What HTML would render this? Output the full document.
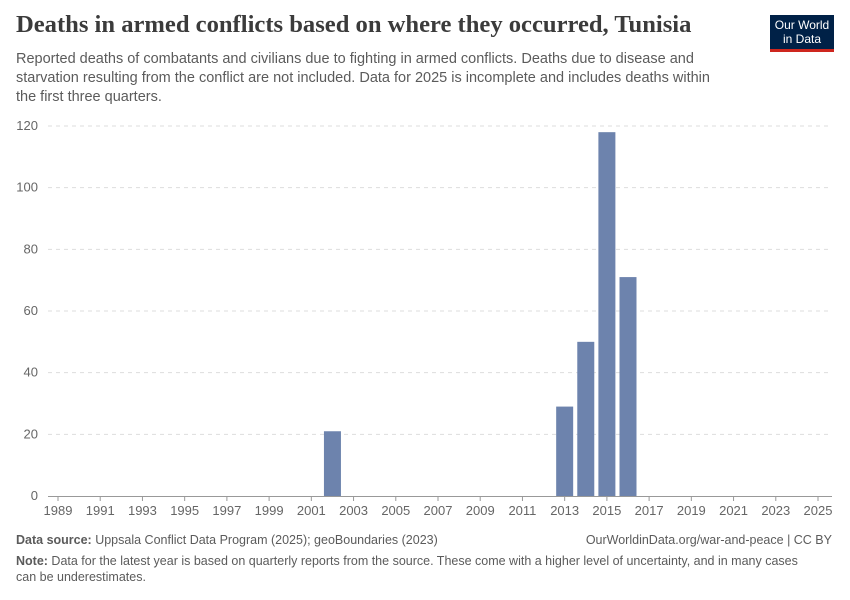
<!DOCTYPE html>
<html><head><meta charset="utf-8"><style>
body{margin:0;background:#fff;font-family:"Liberation Sans",sans-serif;}
#wrap{position:relative;width:850px;height:600px;overflow:hidden;}
.t{position:absolute;margin:0;}
</style></head><body>
<div id="wrap">
<h1 class="t" style="left:16px;top:11px;font-family:'Liberation Serif',serif;font-size:24.6px;font-weight:bold;color:#3b3b3b;">Deaths in armed conflicts based on where they occurred, Tunisia</h1>
<div class="t" style="left:16px;top:50px;width:705px;font-size:14.5px;line-height:19px;color:#5b5b5b;">Reported deaths of combatants and civilians due to fighting in armed conflicts. Deaths due to disease and starvation resulting from the conflict are not included. Data for 2025 is incomplete and includes deaths within the first three quarters.</div>
<div class="t" style="left:770px;top:15px;width:64px;height:37px;background:#002147;border-bottom:3px solid #ce261e;color:#fff;font-size:12px;line-height:14px;text-align:center;padding-top:3px;box-sizing:border-box;">Our World<br>in Data</div>
<svg id="chart" class="t" style="left:0;top:0" width="850" height="600"></svg>
<div class="t" style="left:16px;top:533px;font-size:12.5px;color:#5b5b5b;"><b>Data source:</b> Uppsala Conflict Data Program (2025); geoBoundaries (2023)</div>
<div class="t" style="right:18px;top:533px;font-size:12.5px;color:#5b5b5b;">OurWorldinData.org/war-and-peace | CC BY</div>
<div class="t" style="left:16px;top:553px;width:790px;font-size:12.5px;line-height:16px;color:#5b5b5b;"><b>Note:</b> Data for the latest year is based on quarterly reports from the source. These come with a higher level of uncertainty, and in many cases can be underestimates.</div>
</div>
<script>
const years=[2002,2013,2014,2015,2016];
const deaths=[21,29,50,118,71];
const yTicks=[0,20,40,60,80,100,120];
const xTicks=[1989,1991,1993,1995,1997,1999,2001,2003,2005,2007,2009,2011,2013,2015,2017,2019,2021,2023,2025];
const NS="http://www.w3.org/2000/svg",svg=document.getElementById('chart');
const x=y=>58+(y-1989)*(760/36), yv=v=>496-v*(370/120);
function mk(t,a){const e=document.createElementNS(NS,t);for(const k in a)e.setAttribute(k,a[k]);svg.appendChild(e);return e;}
yTicks.forEach(v=>{
 if(v>0){const g=mk('line',{x1:48,x2:832,y1:yv(v),y2:yv(v),stroke:'#ddd','stroke-dasharray':'4,4'});
 
 }
 const t=mk('text',{x:38,y:yv(v)+4,'text-anchor':'end','font-size':13,fill:'#666','font-family':'Liberation Sans'});t.textContent=v;
 
 
});
const ax=mk('line',{x1:48,x2:832,y1:496.5,y2:496.5,stroke:'#999'});


xTicks.forEach(yr=>{
 const tk=mk('line',{x1:x(yr),x2:x(yr),y1:496,y2:501,stroke:'#999'});
 
 
 const t=mk('text',{x:x(yr),y:515,'text-anchor':'middle','font-size':13,fill:'#666','font-family':'Liberation Sans'});t.textContent=yr;
 
 
});
years.forEach((yr,i)=>{
 const b=mk('rect',{x:x(yr)-8.5,width:17,y:yv(deaths[i]),height:496-yv(deaths[i]),fill:'#6d83ad'});
 
 
});
</script>
</body></html>
